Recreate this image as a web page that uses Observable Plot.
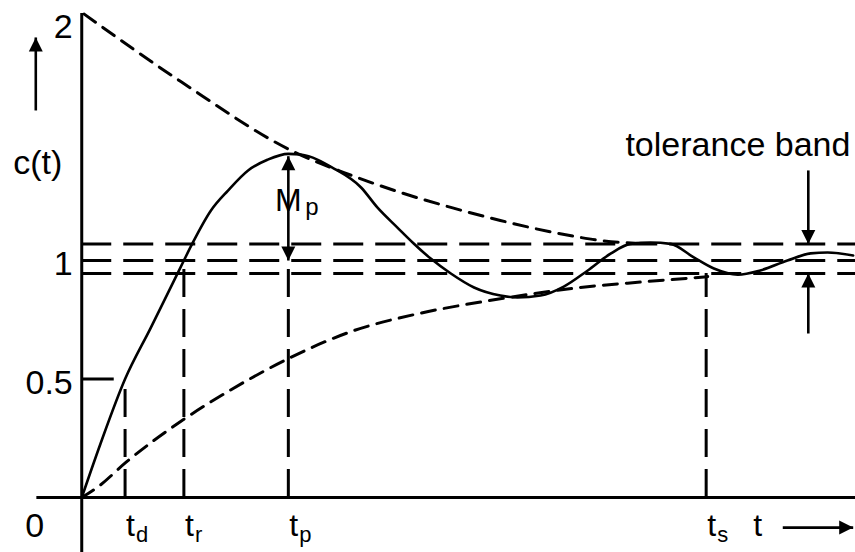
<!DOCTYPE html>
<html>
<head>
<meta charset="utf-8">
<script src="https://cdn.jsdelivr.net/npm/d3@7"></script>
<script src="https://cdn.jsdelivr.net/npm/@observablehq/plot@0.6"></script>
<style>
  html, body { margin: 0; padding: 0; background: #fff; }
  #chart { width: 855px; height: 552px; }
</style>
</head>
<body>
<div id="chart"></div>
<script>
// Step response c(t) of an underdamped second-order system (time in arbitrary units)
const response = [
  [0, 0], [0.24, 0.225], [0.56, 0.5], [0.89, 0.715], [1.11, 0.86],
  [1.32, 1.0], [1.43, 1.072], [1.67, 1.211], [1.89, 1.295], [2.15, 1.38], [2.40, 1.425],
  [2.67, 1.45], [2.83, 1.447], [3.26, 1.388], [3.61, 1.308], [3.82, 1.224], [4.08, 1.139],
  [4.29, 1.072], [4.51, 1.008], [4.77, 0.945], [5.07, 0.886], [5.41, 0.852], [5.63, 0.844],
  [5.93, 0.852], [6.23, 0.89], [6.54, 0.958], [6.84, 1.03], [7.09, 1.07],
  [7.35, 1.076], [7.61, 1.07], [7.91, 1.013], [8.17, 0.966], [8.48, 0.94], [8.77, 0.958],
  [9.12, 1.0], [9.42, 1.03], [9.64, 1.034], [9.97, 1.021]
];

// Decaying envelopes above and below the final value
const upperEnvelope = [
  [0.03, 2.04], [1.28, 1.755], [2.79, 1.451], [3.39, 1.371], [4.12, 1.287], [4.77, 1.224],
  [5.41, 1.169], [6.10, 1.118], [6.45, 1.097], [6.67, 1.086], [7.2, 1.072]
];
const lowerEnvelope = [
  [0, 0], [0.21, 0.045], [0.57, 0.148], [1.32, 0.33], [1.93, 0.455], [2.67, 0.586],
  [3.48, 0.7], [4.34, 0.775], [5.25, 0.83], [5.84, 0.86], [6.41, 0.885],
  [7.26, 0.91], [7.83, 0.925], [8.09, 0.932]
];

// Final value and the tolerance band around it
const bandLevels = [1.07, 1.0, 0.945];

// Characteristic times: delay, rise, peak, settling
const timeMarks = [
  { sub: "d", t: 0.56, level: 0.5 },
  { sub: "r", t: 1.32, level: 1.0 },
  { sub: "p", t: 2.67, level: 1.0 },
  { sub: "s", t: 8.07, level: 0.945 }
];

// Value labels on the c(t) axis
const yLabels = [
  { v: 2, label: "2" },
  { v: 1, label: "1" },
  { v: 0.5, label: "0.5" }
];

// Annotation arrows: shaft from (x1,y1) to the tip (x2,y2)
const arrows = [
  { x1: -0.594, y1: 1.633, x2: -0.594, y2: 1.941, dir: 0 },   // c(t) axis direction
  { x1: 2.67, y1: 1.22, x2: 2.67, y2: 1.44, dir: 0 },         // Mp, up to the peak
  { x1: 2.67, y1: 1.22, x2: 2.67, y2: 1.0, dir: 180 },        // Mp, down to final value
  { x1: 9.39, y1: 1.38, x2: 9.39, y2: 1.07, dir: 180 },       // band, upper edge
  { x1: 9.39, y1: 0.692, x2: 9.39, y2: 0.945, dir: 0 },       // band, lower edge
  { x1: 9.06, y1: -0.127, x2: 9.97, y2: -0.127, dir: 90 }     // t axis direction
];

// Filled arrowhead with its tip at the origin, pointing up
const arrowHead = {
  draw(context) {
    context.moveTo(0, 0);
    context.lineTo(7, 14);
    context.lineTo(-7, 14);
    context.closePath();
  }
};

const font = "'Liberation Sans', Arial, sans-serif";
const bandDash = "30,12";

const chart = Plot.plot({
  width: 855,
  height: 552,
  margin: 0,
  x: { domain: [-1.05, 10], axis: null },
  y: { domain: [-0.232, 2.097], axis: null },
  style: { fontFamily: font, background: "#fff", color: "#000" },
  marks: [
    // tolerance band and final value
    Plot.ruleY(bandLevels, {
      x1: 0, x2: 10, stroke: "#000", strokeWidth: 3,
      strokeDasharray: bandDash,
      strokeDashoffset: (d, i) => (i === 1 ? 18 : 0)
    }),
    // drop lines from the characteristic times
    Plot.ruleX(timeMarks, {
      x: "t", y1: 0, y2: "level", stroke: "#000", strokeWidth: 3,
      strokeDasharray: "28,12"
    }),
    // envelopes
    Plot.line(upperEnvelope, {
      x: d => d[0], y: d => d[1], curve: "monotone-x",
      stroke: "#000", strokeWidth: 3, strokeDasharray: "14,9"
    }),
    Plot.line(lowerEnvelope, {
      x: d => d[0], y: d => d[1], curve: "monotone-x",
      stroke: "#000", strokeWidth: 3, strokeDasharray: "14,9"
    }),
    // response
    Plot.line(response, {
      x: d => d[0], y: d => d[1], curve: "monotone-x",
      stroke: "#000", strokeWidth: 2.6
    }),
    // axes
    Plot.ruleX([0], { y1: -0.232, y2: 2.042, stroke: "#000", strokeWidth: 3 }),
    Plot.ruleY([0], { x1: -0.58, x2: 10, stroke: "#000", strokeWidth: 3 }),
    Plot.ruleY([0.5], { x1: 0, x2: 0.42, stroke: "#000", strokeWidth: 3 }),
    // arrows
    Plot.link(arrows, {
      x1: "x1", y1: "y1", x2: "x2", y2: "y2", stroke: "#000", strokeWidth: 2.6
    }),
    Plot.dot(arrows, {
      x: "x2", y: "y2", symbol: arrowHead, r: 5, rotate: "dir",
      fill: "#000", stroke: null
    }),
    // axis value labels
    Plot.text(yLabels, {
      x: -0.116, y: "v", text: "label", textAnchor: "end", dy: 4,
      fontSize: 34, fill: "#000"
    }),
    Plot.text(["0"], {
      x: -0.607, y: 0, text: d => d, dy: 29, fontSize: 34, fill: "#000"
    }),
    Plot.text(["c(t)"], {
      x: -0.568, y: 1.41, text: d => d, fontSize: 34, fill: "#000"
    }),
    Plot.text(["tolerance band"], {
      x: 8.48, y: 1.485, text: d => d, fontSize: 34, fill: "#000"
    }),
    // time labels t_d, t_r, t_p, t_s
    Plot.text(timeMarks, {
      x: "t", y: 0, text: () => "t", textAnchor: "start", lineAnchor: "bottom",
      dx: 1, dy: 38, fontSize: 32, fill: "#000"
    }),
    Plot.text(timeMarks, {
      x: "t", y: 0, text: "sub", textAnchor: "start", lineAnchor: "bottom",
      dx: 11, dy: 44, fontSize: 22, fill: "#000"
    }),
    Plot.text(["t"], {
      x: 8.68, y: 0, text: d => d, textAnchor: "start", lineAnchor: "bottom",
      dy: 38, fontSize: 32, fill: "#000"
    }),
    // M_p label on the overshoot arrow
    Plot.text(["M"], {
      x: 2.67, y: 1.253, text: d => d, fontSize: 32, fill: "#000"
    }),
    Plot.text(["p"], {
      x: 2.67, y: 1.253, text: d => d, textAnchor: "start", lineAnchor: "bottom",
      dx: 17, dy: 14, fontSize: 24, fill: "#000"
    })
  ]
});

document.getElementById("chart").appendChild(chart);
</script>
</body>
</html>
